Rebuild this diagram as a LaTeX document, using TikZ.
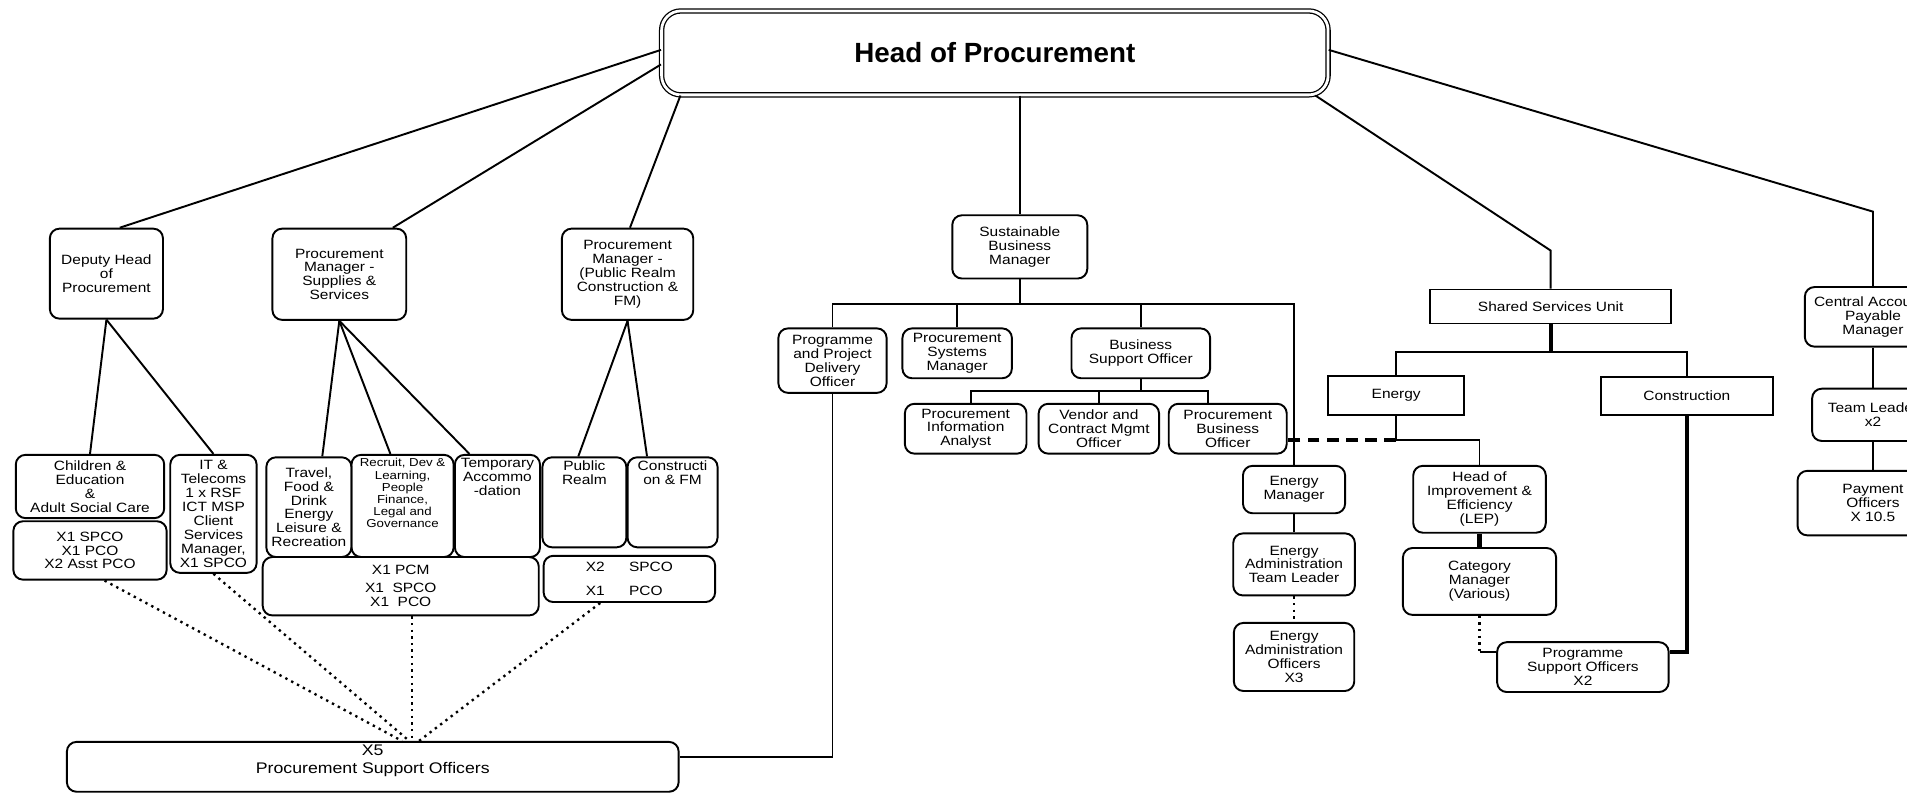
\documentclass[tikz,border=0pt]{standalone}
\usepackage{fontspec}
\setmainfont{Liberation Sans}
\newfontfamily\scanfont[FakeStretch=1.15]{Liberation Sans}
\usepackage{tikz}
\usetikzlibrary{positioning, calc}

\newcommand{\toptext}[3]{\parbox[c][#1][t]{#2}{\centering #3}}

\begin{document}
\begin{tikzpicture}[
  x=0.02cm, y=-0.02cm,
  org/.style     = {draw, line width=0.9pt, rounded corners=4.5pt,
                    align=center, inner sep=1pt,
                    font=\scanfont\fontsize{6.3}{6.5}\selectfont},
  unitbox/.style = {org, sharp corners},
  headbox/.style = {draw, double, double distance=1.3pt, line width=0.6pt,
                    rounded corners=9pt,
                    font=\bfseries\fontsize{13}{15}\selectfont},
  sz/.style 2 args = {minimum width=#1*0.02cm, minimum height=#2*0.02cm},
  ln/.style      = {line width=0.9pt},
  lnb/.style     = {line width=2pt},
  lndot/.style   = {line width=1.1pt, dotted},
  lndash/.style  = {line width=1.5pt, dash pattern=on 5.5pt off 3.5pt},
]
\useasboundingbox (0,0) rectangle (1568,654);
\clip (0,0) rectangle (1568,654);
\fill[white] (0,0) rectangle (1568,654);

\node[headbox, sz={548}{69}] (hop) at (818,43.5) {Head of Procurement};

\node[org, sz={93}{74}]  (dep) at (87.5,225)  {Deputy Head\\of\\Procurement};
\node[org, sz={110}{75}] (pms) at (279,225.5) {Procurement\\Manager -\\Supplies \&\\Services};
\node[org, sz={108}{75}] (pmr) at (516,225.5) {Procurement\\Manager -\\(Public Realm\\Construction \&\\FM)};
\node[org, sz={111}{52}] (sbm) at (838.5,203) {Sustainable\\Business\\Manager};
\node[unitbox, sz={198}{28}] (ssu) at (1275,252) {Shared Services Unit};
\node[org, sz={112}{49}] (cap) at (1540,260.5) {Central Accounts\\Payable\\Manager};
\node[org, sz={100}{43}, below=0.66cm of cap] (tl) {Team Leader\\x2};
\node[org, sz={124}{53}, below=0.46cm of tl]  (po) {Payment\\Officers\\X 10.5};

% deputy head and supplies
\node[org, sz={122}{52}] (che) at (74,400) {Children \&\\Education\\\&\\Adult Social Care};
\node[org, sz={126}{48}, below=0.02cm of che] (spc1) {X1 SPCO\\X1 PCO\\X2 Asst PCO};
\node[org, sz={71}{97}]  (itt) at (175.5,422.5) {IT \&\\Telecoms\\1 x RSF\\ICT MSP\\Client\\Services\\Manager,\\X1 SPCO};
\node[org, sz={70}{82}]  (tfd) at (254,417) {Travel,\\Food \&\\Drink\\Energy\\Leisure \&\\Recreation};
\node[org, sz={84}{84}, font=\scanfont\fontsize{5.4}{5.7}\selectfont] (rdl) at (331,416)
  {\toptext{1.56cm}{1.6cm}{Recruit, Dev \&\\Learning,\\People\\Finance,\\Legal and\\Governance}};
\node[org, sz={70}{84}]  (tac) at (409,416) {\toptext{1.56cm}{1.3cm}{Temporary\\Accommo\\-dation}};
\node[org, sz={227}{48}] (pcm) at (329.5,482) {X1 PCM\\[2pt]X1\ \ SPCO\\X1\ \ PCO};
\node[org, sz={69}{74}]  (pub) at (480.5,413) {\toptext{1.36cm}{1.25cm}{Public\\Realm}};
\node[org, sz={74}{74}]  (cfm) at (553,413) {\toptext{1.36cm}{1.3cm}{Constructi\\on \& FM}};
\node[org, sz={141}{38}, align=left] (sp2) at (517.5,476) {X2\hspace{0.4cm}SPCO\\[5pt]X1\hspace{0.4cm}PCO};
\node[org, sz={503}{41}, font=\scanfont\fontsize{7.2}{8.4}\selectfont] (pso) at (306.5,630.5)
  {\toptext{0.72cm}{9cm}{X5\\Procurement Support Officers}};

% sustainable business
\node[org, sz={89}{53}]  (ppdo) at (684.5,296.5) {Programme\\and Project\\Delivery\\Officer};
\node[org, sz={90}{41}]  (psm)  at (787,290.5)   {Procurement\\Systems\\Manager};
\node[org, sz={114}{41}] (bso)  at (938,290.5)   {Business\\Support Officer};
\node[org, sz={100}{41}] (pia)  at (794,352.5)   {Procurement\\Information\\Analyst};
\node[org, sz={99}{41}]  (vcmo) at (903.5,352.5) {Vendor and\\Contract Mgmt\\Officer};
\node[org, sz={97}{41}]  (pbo)  at (1009.5,352.5) {Procurement\\Business\\Officer};

% shared services
\node[unitbox, sz={112}{32}] (ene) at (1148,325)   {Energy};
\node[unitbox, sz={142}{31}] (con) at (1387,325.5) {Construction};
\node[org, sz={84}{39}]  (em)  at (1064,402.5) {Energy\\Manager};
\node[org, sz={100}{51}, below=0.3cm of em]   (eatl) {Energy\\Administration\\Team Leader};
\node[org, sz={99}{56},  below=0.42cm of eatl] (eao) {Energy\\Administration\\Officers\\X3};
\node[org, sz={109}{55}] (hoi) at (1216.5,410.5) {Head of\\Improvement \&\\Efficiency\\(LEP)};
\node[org, sz={126}{55}, below=0.22cm of hoi] (cm) {Category\\Manager\\(Various)};
\node[org, sz={141}{41}] (pso2) at (1301.5,548.5) {Programme\\Support Officers\\X2};

\coordinate (ssuk) at (1275,206);
\coordinate (capk) at (1540,174);
\coordinate (psoin) at ($(pso2.north west)+(0,9)$);

\draw[ln] ($(hop.west)+(0,-2.5)$) -- ($(dep.north)+(11,0)$);
\draw[ln] ($(hop.west)+(0,9.5)$) -- ($(pms.north)+(44,0)$);
\draw[ln] ($(hop.south west)+(16,0)$) -- ($(pmr.north)+(2,0)$);
\draw[ln] (sbm.north |- hop.south) -- (sbm.north);
\draw[ln] ($(hop.south east)+(-11,0)$) -- (ssuk) -- (ssu.north);
\draw[ln] ($(hop.east)+(0,-2.5)$) -- (capk) -- (cap.north);
\draw[ln] (cap) -- (tl);
\draw[ln] (tl) -- (po);

\draw[ln] (dep.south) -- (che.north);
\draw[ln] (dep.south) -- (itt.north);
\draw[ln] (pms.south) -- ($(tfd.north)+(11,0)$);
\draw[ln] (pms.south) -- ($(rdl.north)+(-10,0)$);
\draw[ln] (pms.south) -- ($(tac.north)+(-23,0)$);
\draw[ln] (pmr.south) -- ($(pub.north)+(-5,0)$);
\draw[ln] (pmr.south) -- ($(cfm.north)+(-21,0)$);

\draw[lndot] ($(spc1.south)+(12,0)$) -- ($(pso.north)+(24,0)$);
\draw[lndot] (itt.south) -- ($(pso.north)+(30,0)$);
\draw[lndot] ($(pcm.south)+(9,0)$) -- ($(pso.north)+(32,0)$);
\draw[lndot] ($(sp2.south)+(-24,0)$) -- ($(pso.north)+(38,0)$);

\draw[ln] (sbm.south) -- ++(0,20) coordinate (sbmj);
\draw[ln] (ppdo.north) |- (sbmj);
\draw[ln] (psm.north) -- (psm.north |- sbmj);
\draw[ln] (bso.north) |- (sbmj);
\draw[ln] (em.north) |- (sbmj);
\draw[ln] (bso.south) -- ++(0,10) coordinate (bsoj);
\draw[ln] ($(pia.north)+(4,0)$) |- (bsoj);
\draw[ln] (vcmo.north) -- (vcmo.north |- bsoj);
\draw[ln] ($(pbo.north)+(-16,0)$) |- (bsoj);
\draw[ln] (ppdo.south) |- ($(pso.east)+(0,-8)$);

\draw[lnb] (ssu.south) -- ++(0,23) coordinate (ssuj);
\draw[ln] (ene.north) |- (ssuj);
\draw[ln] (con.north) |- (ssuj);
\draw[ln] (ene.south) -- ++(0,20) coordinate (enej);
\draw[ln] (hoi.north) |- (enej);
\draw[lndash] (enej) -- (pbo.east |- enej);
\draw[ln] (em.south) -- (em.south |- eatl.north);
\draw[lndot] (eatl.south) -- (eatl.south |- eao.north);
\draw[lnb] (hoi.south) -- (hoi.south |- cm.north);
\draw[lndot] (hoi.south |- cm.south) -- (hoi.south |- psoin);
\draw[ln] (hoi.south |- psoin) -- (psoin);
\draw[lnb] (con.south) |- ($(pso2.north east)+(0,9)$);
\end{tikzpicture}
\end{document}
